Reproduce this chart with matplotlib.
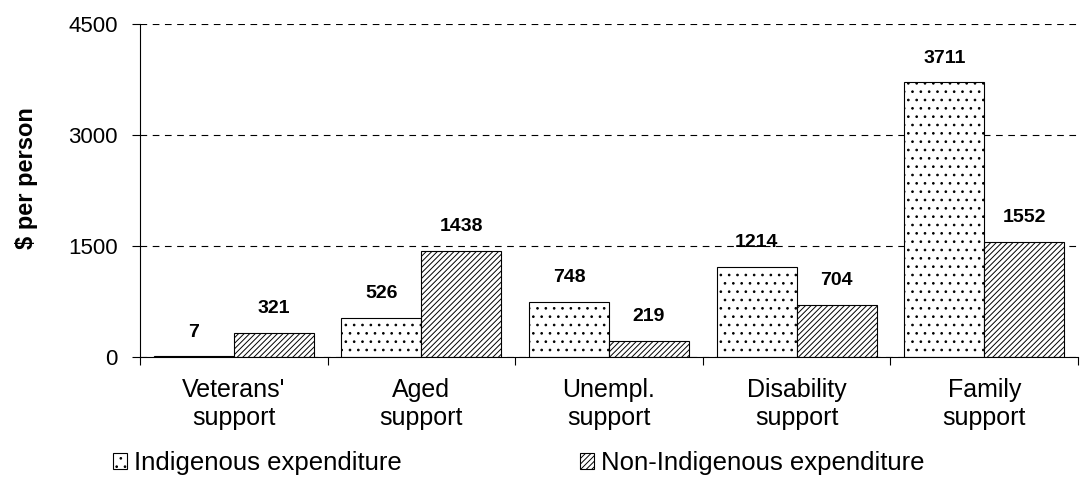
import matplotlib
matplotlib.use("Agg")
import matplotlib.pyplot as plt
import numpy as np

plt.rcParams['font.family'] = ['Liberation Sans', 'DejaVu Sans']
plt.rcParams['hatch.linewidth'] = 0.7

# %% data
categories = ["Veterans'\nsupport", "Aged\nsupport", "Unempl.\nsupport",
              "Disability\nsupport", "Family\nsupport"]
indigenous = [7, 526, 748, 1214, 3711]
non_indigenous = [321, 1438, 219, 704, 1552]
yticks = [0, 1500, 3000, 4500]

# %% plot
W, H = 1082, 483
fig = plt.figure(figsize=(W / 100, H / 100), dpi=100)
ax = fig.add_axes([140 / W, 1 - 357 / H, 938 / W, 333 / H])

x = np.arange(len(categories))
w = 0.426
b1 = ax.bar(x - w / 2, indigenous, w, color="white", edgecolor="black",
            hatch="..", linewidth=0.8, label="Indigenous expenditure")
b2 = ax.bar(x + w / 2, non_indigenous, w, color="white", edgecolor="black",
            hatch="//////", linewidth=0.8, label="Non-Indigenous expenditure")

for bars, vals in ((b1, indigenous), (b2, non_indigenous)):
    for r, v in zip(bars, vals):
        ax.annotate(str(v), (r.get_x() + r.get_width() / 2, v),
                    xytext=(0, 17.5), textcoords="offset points",
                    ha="center", va="center", fontsize=14, fontweight="bold")

ax.set_xlim(-0.5, len(categories) - 0.5)
ax.set_ylim(0, 4500)
ax.set_yticks(yticks)
ax.set_yticklabels([str(t) for t in yticks], fontsize=16)
ax.yaxis.grid(True, linestyle=(0, (6, 5)), color="black", linewidth=0.8)
ax.set_axisbelow(True)

# category labels sit between the boundary ticks
ax.set_xticks(np.arange(len(categories) + 1) - 0.5)
ax.set_xticklabels([])
ax.set_xticks(x, minor=True)
ax.set_xticklabels(categories, minor=True, fontsize=18)
ax.tick_params(axis="x", which="minor", length=0, pad=15)
ax.tick_params(axis="x", which="major", length=6, direction="out")
ax.tick_params(axis="y", length=6, direction="out", pad=10)

for s in ("top", "right"):
    ax.spines[s].set_visible(False)

fig.text(26 / W, 1 - 178 / H, "$ per person", rotation=90, ha="center",
         va="center", fontsize=17, fontweight="bold")

# one legend per series, placed side by side below the axis
for handle, x0 in ((b1, 113), (b2, 580)):
    fig.legend(handles=[handle], loc="center left",
               bbox_to_anchor=(x0 / W, 1 - 463 / H), frameon=False,
               fontsize=18.5, handlelength=0.55, handleheight=0.55,
               handletextpad=0.25, borderpad=0, borderaxespad=0)

fig.savefig("out.png", dpi=100)
